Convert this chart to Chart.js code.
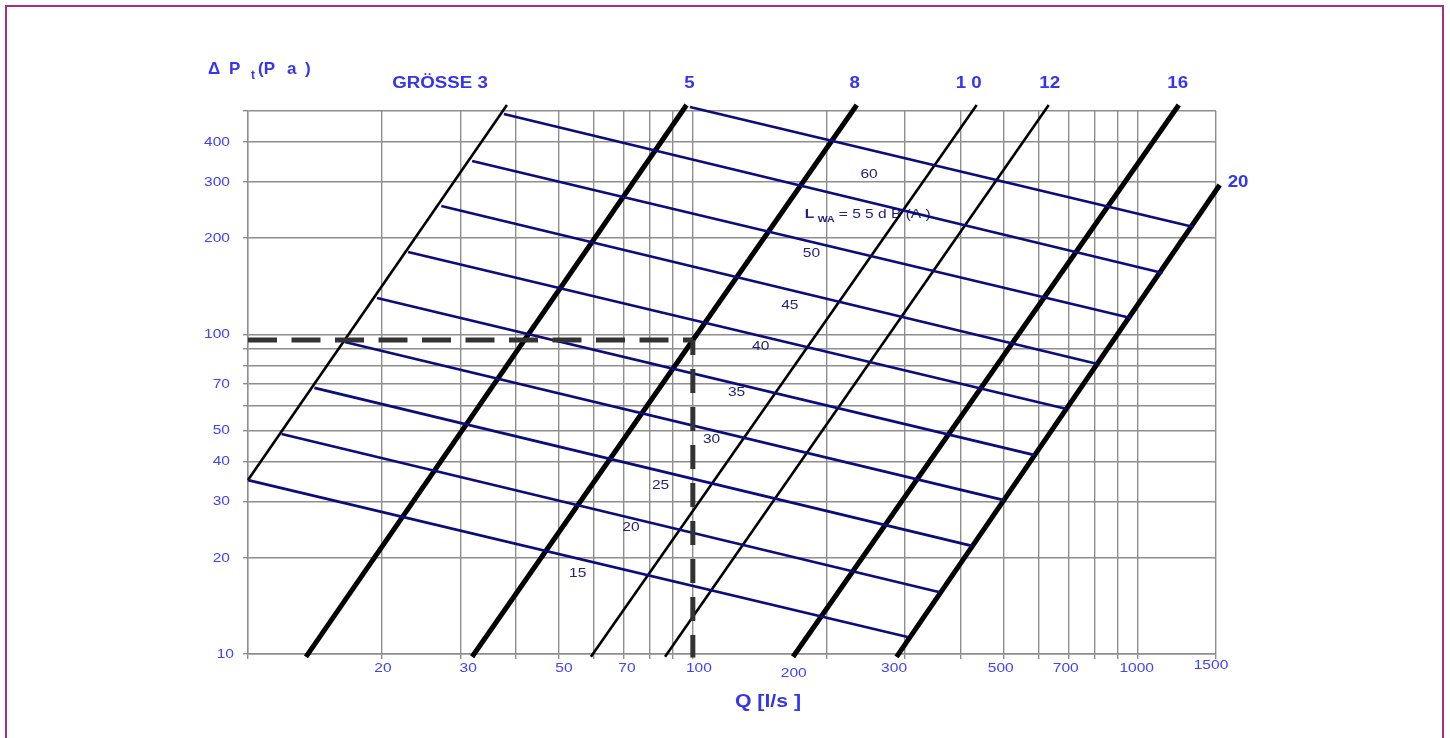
<!DOCTYPE html>
<html>
<head>
<meta charset="utf-8">
<script src="https://cdn.jsdelivr.net/npm/chart.js@4.4.1/dist/chart.umd.min.js"></script>
<style>
  html, body { margin: 0; padding: 0; background: #fff; overflow: hidden; }
  #frame { position: absolute; left: 5px; top: 5px; width: 1435px; height: 800px; border: 2px solid #a8307c; }
  #c { position: absolute; left: 0; top: 0; }
</style>
</head>
<body>
<div id="frame"></div>
<canvas id="c" width="1450" height="738"></canvas>
<script>
// ---- axis grids and tick labels ----
const qGrid = [10, 20, 30, 40, 50, 60, 70, 80, 90, 100, 200, 300, 400, 500, 600, 700, 800, 900, 1000, 1500];
const qTickLabels = [20, 30, 50, 70, 100, 200, 300, 500, 700, 1000, 1500];
const dpGrid = [10, 20, 30, 40, 50, 60, 70, 80, 90, 100, 200, 300, 400, 500];
const dpTickLabels = [10, 20, 30, 40, 50, 70, 100, 200, 300, 400];

// ---- size characteristics (Q in l/s, ΔPt in Pa), start and end point of each line ----
const sizeNames = ['GRÖSSE 3', '5', '8', '1 0', '12', '16', '20'];
const sizeQ  = [[10, 38.2], [13.5, 96.8], [31.9, 233.6], [59.0, 434.6], [86.6, 631], [168, 1237], [287, 1529]];
const sizeDP = [[35.0, 522], [9.8, 522], [9.8, 522], [9.8, 522], [9.8, 522], [9.8, 522], [9.8, 293.4]];

// ---- sound power lines L_WA in dB(A) ----
const lwaLevels = [15, 20, 25, 30, 35, 40, 45, 50, 55, 60];
const lwaQ  = [[10, 304], [11.9, 359], [14.1, 424], [16.5, 500], [19.5, 587], [22.9, 693], [27.2, 813], [31.9, 965], [37.6, 1138], [98.5, 1336]];
const lwaDP = [[35.0, 11.3], [48.8, 15.6], [68.0, 21.8], [94.7, 30.3], [130.0, 41.9], [181.0, 58.4], [252.3, 80.8], [348.8, 112.5], [489.3, 155.7], [514.6, 216.8]];
// where each level is written (Q, ΔPt)
const lwaTagQ  = [55.1, 72.6, 84.6, 110.2, 125.4, 142.1, 165.2, 184.8, 178.5, 249];
const lwaTagDP = [17.9, 25.0, 33.8, 47.0, 65.7, 92.0, 123.6, 179.4, 238.1, 317.7];

// ---- worked example: Q = 100 l/s read across to ΔPt ----
const exampleQ = [10, 100];
const exampleDP = 96.1;
const exampleFloorDP = 9.75;

// ---- styling ----
const FONT = '"Liberation Sans", Arial, sans-serif';
const TICK_BLUE = '#4141ff';
const TITLE_BLUE = '#3434f2';
const NAVY = '#0c0c7c';
const LABEL_NAVY = '#23237f';
const GRID = '#8e8e8e';
const sizeWidths = [2.6, 5, 5, 2.6, 2.6, 5, 5];
// label nudges in px relative to the anchor on the scale
const qLabelNudge = { 20: [1, 0], 30: [8, 0], 50: [5, 0], 70: [3, 0], 100: [6, 0], 200: [-33, 5], 300: [-11, 0], 500: [-3, 0], 700: [-3, 0], 1000: [-1, 0], 1500: [-5, -3] };
const sizeLabelNudge = [[-19, 0, 'right'], [3, 0, 'center'], [-2, 0, 'center'], [-8, 0, 'center'], [1, 0, 'center'], [-1, 0, 'center'], [8, -2, 'left']];

function pts(qs, dps) {
  return qs.map((q, i) => ({ x: q, y: dps[i] }));
}

const datasets = [];
// dashed reading lines, drawn on top
datasets.push({
  data: pts([exampleQ[0], exampleQ[1]], [exampleDP, exampleDP]),
  borderColor: '#333333', borderWidth: 5, borderDash: [29, 14.5], order: 0
});
datasets.push({
  data: pts([exampleQ[1], exampleQ[1]], [exampleDP, exampleFloorDP]),
  borderColor: '#333333', borderWidth: 5, borderDash: [24, 14], borderDashOffset: 9, order: 0
});
// sound power lines
lwaLevels.forEach((lv, i) => {
  datasets.push({ data: pts(lwaQ[i], lwaDP[i]), borderColor: NAVY, borderWidth: 2.7, order: 1 });
});
// size lines
sizeNames.forEach((name, i) => {
  datasets.push({ data: pts(sizeQ[i], sizeDP[i]), borderColor: '#000000', borderWidth: sizeWidths[i], order: 2 });
});
datasets.forEach(d => Object.assign(d, {
  showLine: true, pointRadius: 0, pointHoverRadius: 0, fill: false, clip: false, tension: 0, borderCapStyle: 'butt'
}));

function put(ctx, text, x, y, font, color, align, stretch) {
  ctx.save();
  ctx.font = font;
  ctx.fillStyle = color;
  ctx.textAlign = align || 'center';
  ctx.textBaseline = 'middle';
  ctx.translate(x, y);
  ctx.scale(stretch || 1, 1);
  ctx.fillText(text, 0, 0);
  ctx.restore();
}

const chartText = {
  id: 'chartText',
  beforeDatasetsDraw(chart) {
    const ctx = chart.ctx, xs = chart.scales.x, ys = chart.scales.y;
    lwaLevels.forEach((lv, i) => {
      const px = xs.getPixelForValue(lwaTagQ[i]);
      const py = ys.getPixelForValue(lwaTagDP[i]);
      if (lv === 55) {
        const f = '13.5px ' + FONT;
        put(ctx, 'L', px, py, 'bold ' + f, LABEL_NAVY, 'left', 1.15);
        put(ctx, 'WA', px + 13, py + 5, 'bold 9.5px ' + FONT, LABEL_NAVY, 'left', 1.1);
        put(ctx, '= 5 5 d B (A )', px + 34, py, f, LABEL_NAVY, 'left', 1.15);
      } else {
        put(ctx, String(lv), px, py, '13.5px ' + FONT, LABEL_NAVY, 'center', 1.15);
      }
    });
  },
  afterDraw(chart) {
    const ctx = chart.ctx, xs = chart.scales.x, ys = chart.scales.y, area = chart.chartArea;
    const tickFont = '13.5px ' + FONT;
    // ΔPt tick labels
    dpTickLabels.forEach(v => {
      const nx = v === 10 ? 4 : 0;
      put(ctx, String(v), 230 + nx, ys.getPixelForValue(v), tickFont, TICK_BLUE, 'right', 1.15);
    });
    // Q tick labels
    qTickLabels.forEach(v => {
      const n = qLabelNudge[v] || [0, 0];
      put(ctx, String(v), xs.getPixelForValue(v) + n[0], area.bottom + 14.5 + n[1], tickFont, TICK_BLUE, 'center', 1.15);
    });
    // size names at the top end of each line
    sizeNames.forEach((name, i) => {
      const n = sizeLabelNudge[i];
      const top = sizeQ[i][1];
      const tx = xs.getPixelForValue(top) + n[0];
      const ty = i === sizeNames.length - 1 ? ys.getPixelForValue(sizeDP[i][1]) + n[1] : 84;
      put(ctx, name, tx, ty, 'bold 16px ' + FONT, TITLE_BLUE, n[2], 1.17);
    });
    // axis titles
    const tf = 'bold 17px ' + FONT;
    put(ctx, 'Δ', 208, 69, tf, TITLE_BLUE, 'left', 1);
    put(ctx, 'P', 229, 69, tf, TITLE_BLUE, 'left', 1);
    put(ctx, 't', 251, 76, 'bold 12px ' + FONT, TITLE_BLUE, 'left', 1);
    put(ctx, '(P', 258, 69, tf, TITLE_BLUE, 'left', 1);
    put(ctx, 'a', 287, 69, tf, TITLE_BLUE, 'left', 1);
    put(ctx, ')', 305, 69, tf, TITLE_BLUE, 'left', 1);
    put(ctx, 'Q [l/s ]', (area.left + area.right) / 2 + 36, 702, 'bold 19px ' + FONT, TITLE_BLUE, 'center', 1.12);
  }
};

const gridOpts = { color: GRID, lineWidth: 1.4, tickLength: 5, drawTicks: true };
const borderOpts = { color: GRID, width: 1.4 };

new Chart(document.getElementById('c'), {
  type: 'scatter',
  data: { datasets },
  options: {
    responsive: false,
    animation: false,
    devicePixelRatio: 1,
    layout: { padding: { top: 111, right: 234, bottom: 0, left: 0 } },
    plugins: { legend: { display: false }, tooltip: { enabled: false } },
    scales: {
      x: {
        type: 'logarithmic', min: 10, max: 1500,
        afterBuildTicks: s => { s.ticks = qGrid.map(v => ({ value: v })); },
        afterFit: s => { s.height = 84; },
        ticks: { display: false },
        grid: gridOpts, border: borderOpts
      },
      y: {
        type: 'logarithmic', min: 10, max: 500,
        afterBuildTicks: s => { s.ticks = dpGrid.map(v => ({ value: v })); },
        afterFit: s => { s.width = 248; },
        ticks: { display: false },
        grid: gridOpts, border: borderOpts
      }
    }
  },
  plugins: [chartText]
});
</script>
</body>
</html>
